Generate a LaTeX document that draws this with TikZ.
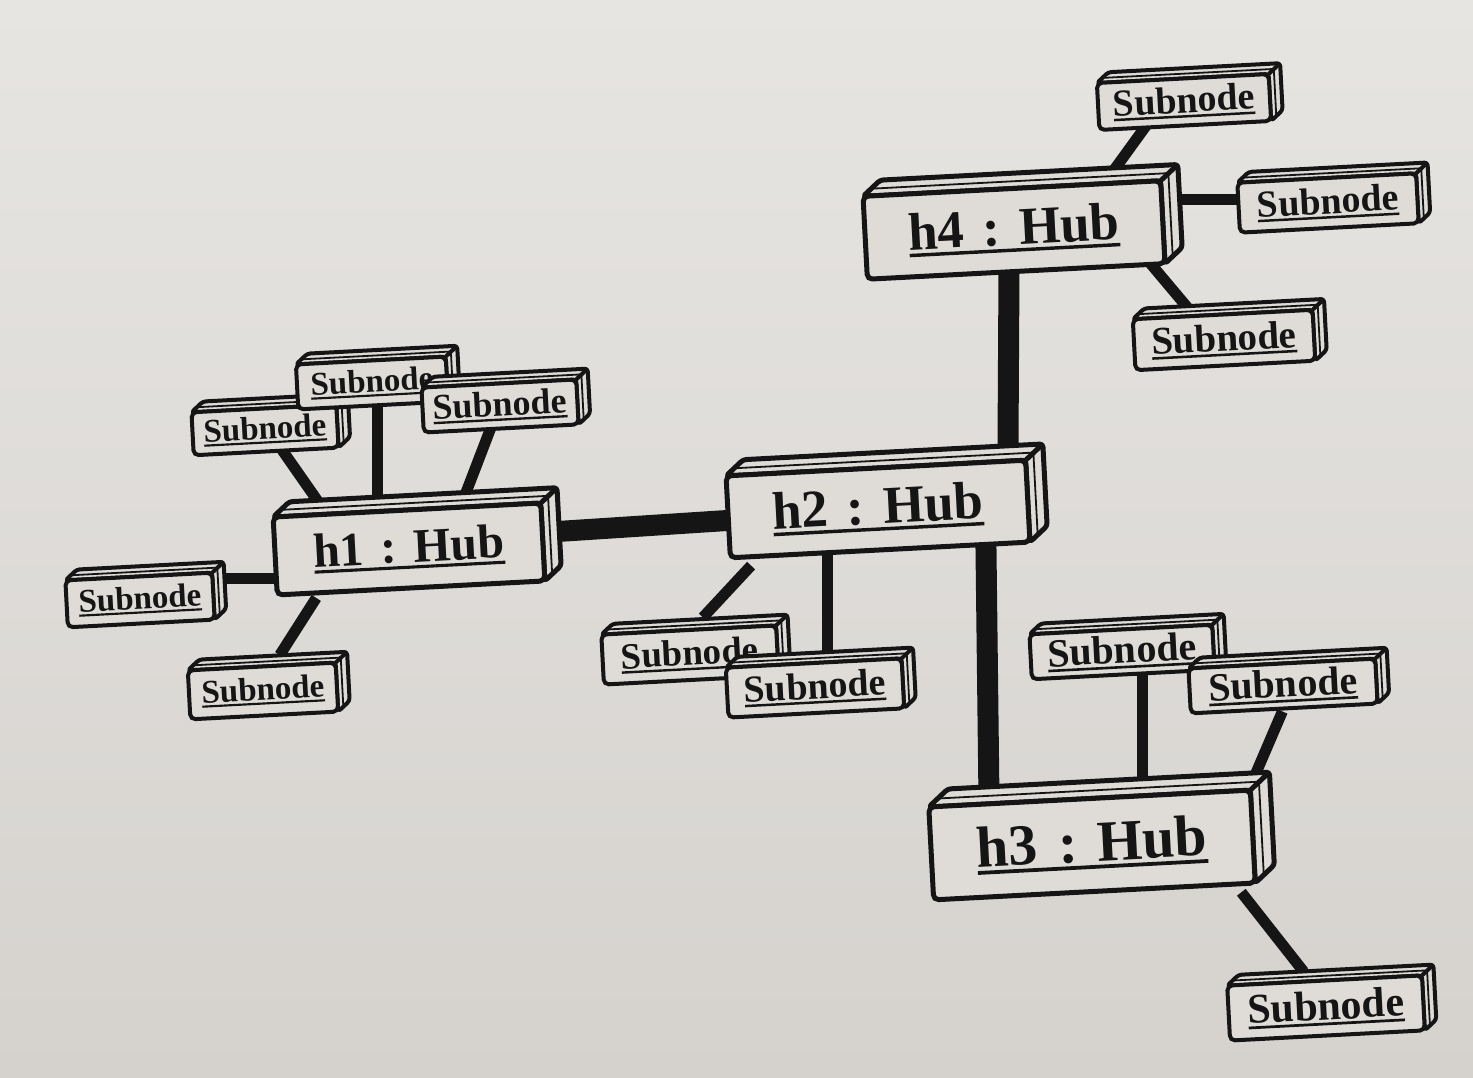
\documentclass[tikz,border=0pt]{standalone}
\usepackage{fontspec}
\setmainfont{Liberation Serif}
\usetikzlibrary{calc}
\pgfdeclarelayer{bg}
\pgfsetlayers{bg,main}
\definecolor{paper}{HTML}{DFDCD8}
\definecolor{papertop}{HTML}{E7E5E2}
\definecolor{paperbot}{HTML}{D5D2CE}
\definecolor{ink}{HTML}{151515}
\newcommand\ulbox[1]{\setbox0\hbox{#1}\rlap{\rule[-0.13em]{\wd0}{0.065em}}\box0}
\tikzset{
  hubline/.style={line width=21pt, draw=ink, shorten <=-8pt, shorten >=-8pt},
  subline/.style={line width=11pt, draw=ink, shorten <=-6pt, shorten >=-6pt},
  facestyle/.style={fill=paper, draw=ink, line join=round, rounded corners=3pt},
  bevel/.style={draw=ink, line width=1.8pt},
  frontface/.style={draw=ink, fill=paper, rounded corners=5pt, inner sep=0pt, transform shape, text=ink},
}
% #1 name, #2 centre, #3 width, #4 height, #5 depth, #6 line width, #7 font size, #8 text
\newcommand\cubebox[8]{%
  \begin{scope}[shift={(#2)}, rotate=3]
    \filldraw[facestyle, line width=#6] (-#3/2,#4/2) -- ++(#5,0.85*#5) -- ++(#3,0) -- ++(0,-#4) -- (#3/2,-#4/2) -- (#3/2,#4/2) -- cycle;
    \draw[draw=ink, line width=#6] (#3/2,#4/2) -- ++(#5,0.85*#5);
    \draw[bevel] (-#3/2+0.45*#5,#4/2+0.4*#5) -- ++(#3,0) -- ++(0,-#4);
    \node[frontface, line width=#6, minimum width=#3, minimum height=#4] (#1) at (0,0)
      {\fontsize{#7}{#7}\selectfont\ulbox{#8}};
  \end{scope}}
\begin{document}
\begin{tikzpicture}[x=1pt,y=1pt]
\useasboundingbox (0,0) rectangle (1473,1077);
% h1 cluster
\cubebox{s1a}{265,647}{145}{43}{12}{4}{33}{\bfseries Subnode}
\cubebox{s1m}{372,694}{150}{45}{12}{4}{33}{\bfseries Subnode}
\cubebox{s1c}{500,671}{155}{45}{12}{4}{36}{\bfseries Subnode}
\cubebox{h1}{409,528}{268}{78}{17}{5}{48}{\bfseries h1\hspace{.35em}:\hspace{.35em}Hub}
\cubebox{s1l}{140,477}{147}{47}{12}{4}{33}{\bfseries Subnode}
\cubebox{s1b}{263,386}{148}{49}{12}{4}{33}{\bfseries Subnode}
% h2 cluster
\cubebox{s2l}{690,422}{175}{50}{12}{4}{37}{\bfseries Subnode}
\cubebox{s2r}{815,389}{176}{50}{12}{4}{38}{\bfseries Subnode}
\cubebox{h2}{878,568}{300}{82}{18}{5}{53}{\bfseries h2\hspace{.35em}:\hspace{.35em}Hub}
% h4 cluster
\cubebox{h4}{1014,847}{298}{83}{18}{5}{53}{\bfseries h4\hspace{.35em}:\hspace{.35em}Hub}
\cubebox{s4t}{1184,975}{172}{47}{12}{4}{38}{\bfseries Subnode}
\cubebox{s4r}{1328,874}{179}{50}{12}{4}{38}{\bfseries Subnode}
\cubebox{s4b}{1224,737}{180}{51}{12}{4}{39}{\bfseries Subnode}
% h3 cluster
\cubebox{s3t}{1122,425}{183}{45}{12}{4}{40}{\bfseries Subnode}
\cubebox{s3r}{1283,391}{187}{45}{12}{4}{40}{\bfseries Subnode}
\cubebox{h3}{1092,232}{322}{93}{20}{5}{58}{\bfseries h3\hspace{.35em}:\hspace{.35em}Hub}
\cubebox{s3b}{1326,69}{195}{55}{12}{4}{42}{\bfseries Subnode}
\begin{pgfonlayer}{bg}
  \shade[top color=papertop, bottom color=paperbot] (0,0) rectangle (1473,1077);
  % hub links
  \draw[hubline] ($(h1.center)+(141,17)$) -- ($(h2.center)+(-143,-11)$);
  \draw[hubline] ($(h2.center)+(130,64)$) -- ($(h4.center)+(-5,-40)$);
  \draw[hubline] ($(h2.center)+(108,-41)$) -- ($(h3.center)+(-103,45)$);
  % h1 subnodes
  \draw[subline] ($(s1a.center)+(15,-17)$) -- ($(h1.center)+(-92,49)$);
  \draw[subline] ($(s1m.center)+(5,-20)$) -- ($(h1.center)+(-32,56)$);
  \draw[subline] ($(s1c.center)+(-10,-24)$) -- ($(h1.center)+(58,59)$);
  \draw[subline] ($(s1l.center)+(75,21)$) -- ($(h1.center)+(-134,-30)$);
  \draw[subline] ($(s1b.center)+(20,41)$) -- ($(h1.center)+(-96,-54)$);
  % h2 subnodes
  \draw[subline] ($(s2l.center)+(17,42)$) -- ($(h2.center)+(-131,-61)$);
  \draw[subline] ($(s2r.center)+(12,38)$) -- ($(h2.center)+(-51,-51)$);
  % h3 subnodes
  \draw[subline] ($(s3t.center)+(20,-23)$) -- ($(h3.center)+(50,62)$);
  \draw[subline] ($(s3r.center)+(-3,-31)$) -- ($(h3.center)+(158,58)$);
  \draw[subline] ($(s3b.center)+(-26,41)$) -- ($(h3.center)+(153,-52)$);
  % h4 subnodes
  \draw[subline] ($(s4t.center)+(-41,-28)$) -- ($(h4.center)+(100,60)$);
  \draw[subline] ($(s4r.center)+(-88,3)$) -- ($(h4.center)+(160,30)$);
  \draw[subline] ($(s4b.center)+(-37,33)$) -- ($(h4.center)+(136,-33)$);
\end{pgfonlayer}
\end{tikzpicture}
\end{document}
